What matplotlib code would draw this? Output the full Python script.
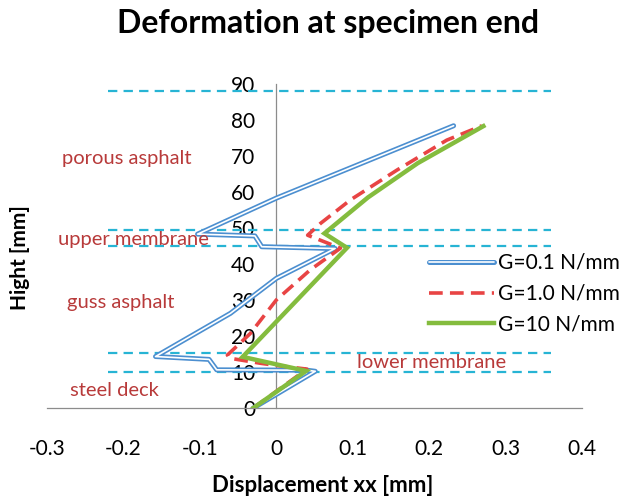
import matplotlib
matplotlib.use("Agg")
import matplotlib.pyplot as plt

plt.rcParams["font.family"] = ["Lato", "DejaVu Sans"]

# displacement profiles over the specimen height
g01_x = [-0.03, 0.051, 0.040, -0.078, -0.088, -0.158, -0.060, 0.0, 0.077, -0.019, -0.028, -0.103, 0.0, 0.232]
g01_y = [0.0, 10.2, 10.5, 10.6, 13.5, 14.3, 26.3, 36.0, 44.3, 44.8, 47.8, 48.3, 58.3, 78.4]

g10_x = [-0.03, 0.040, 0.005, -0.020, -0.060, -0.064, -0.034, 0.0, 0.044, 0.084, 0.041, 0.058, 0.097, 0.158, 0.223, 0.269]
g10_y = [0.0, 10.8, 11.7, 12.4, 13.8, 14.7, 20.7, 30.0, 38.3, 44.4, 48.0, 51.3, 57.8, 66.1, 74.4, 78.4]

g100_x = [-0.03, 0.039, -0.044, 0.0925, 0.063, 0.120, 0.185, 0.271]
g100_y = [0.0, 10.3, 14.2, 44.5, 48.5, 58.5, 68.0, 78.3]

# layer boundaries
boundaries = [88, 49.4, 45, 15.2, 10]
boundary_x = [-0.22, 0.36]

layer_names = ["porous asphalt", "upper membrane", "guss asphalt", "lower membrane", "steel deck"]
layer_pos = [(-0.280, 69.4), (-0.285, 46.7), (-0.274, 29.2), (0.106, 12.5), (-0.270, 5.0)]

fig = plt.figure(figsize=(6.28, 4.99), dpi=100)
ax = fig.add_axes([47 / 628, 1 - 408 / 499, 535 / 628, 324 / 499])

for yb in boundaries:
    ax.plot(boundary_x, [yb, yb], color="#27B4D4", lw=1.6, dashes=(4.2, 2.8), zorder=2)

blue = "#4C8FD0"
h1a, = ax.plot(g01_x, g01_y, color=blue, lw=3.6, solid_joinstyle="round", solid_capstyle="round", zorder=3)
h1b, = ax.plot(g01_x, g01_y, color="white", lw=1.2, solid_joinstyle="round", solid_capstyle="round", zorder=3)
h2, = ax.plot(g10_x, g10_y, color="#E84444", lw=2.6, dashes=(3.8, 2.0), zorder=4)
h3, = ax.plot(g100_x, g100_y, color="#84BC3E", lw=3.2, solid_joinstyle="miter", zorder=5)

ax.set_xlim(-0.3, 0.4)
ax.set_ylim(0, 90)
ax.set_xticks([-0.3, -0.2, -0.1, 0, 0.1, 0.2, 0.3, 0.4])
ax.set_xticklabels(["-0.3", "-0.2", "-0.1", "0", "0.1", "0.2", "0.3", "0.4"])
ax.set_yticks(range(0, 91, 10))

ax.spines["top"].set_visible(False)
ax.spines["right"].set_visible(False)
ax.spines["left"].set_position(("data", 0))
for s in ("left", "bottom"):
    ax.spines[s].set_color("#8C8C8C")
    ax.spines[s].set_linewidth(0.9)
ax.tick_params(axis="both", length=0, labelsize=15)
ax.tick_params(axis="x", pad=22)
ax.tick_params(axis="y", pad=15)
ax.patch.set_visible(False)

text_red = "#B83A3A"
for name, (lx, ly) in zip(layer_names, layer_pos):
    ax.text(lx, ly, name, color=text_red, fontsize=14.5, va="center", ha="left")

leg = fig.legend(
    [(h1a, h1b), h2, h3],
    ["G=0.1 N/mm", "G=1.0 N/mm", "G=10 N/mm"],
    loc="upper left",
    bbox_to_anchor=(429 / 628, 1 - 253 / 499),
    frameon=False,
    fontsize=15,
    handlelength=3.1,
    handletextpad=0.2,
    labelspacing=0.52,
    borderpad=0,
    borderaxespad=0,
)

fig.text(328 / 628, 1 - 24 / 499, "Deformation at specimen end", ha="center", va="center",
         fontsize=23, fontweight="bold")
fig.text(20 / 628, 1 - 258 / 499, "Hight [mm]", ha="center", va="center", rotation=90,
         fontsize=15, fontweight="bold")
fig.text(323 / 628, 1 - 486 / 499, "Displacement xx [mm]", ha="center", va="center",
         fontsize=16, fontweight="bold")

fig.savefig("out.png", dpi=100)
